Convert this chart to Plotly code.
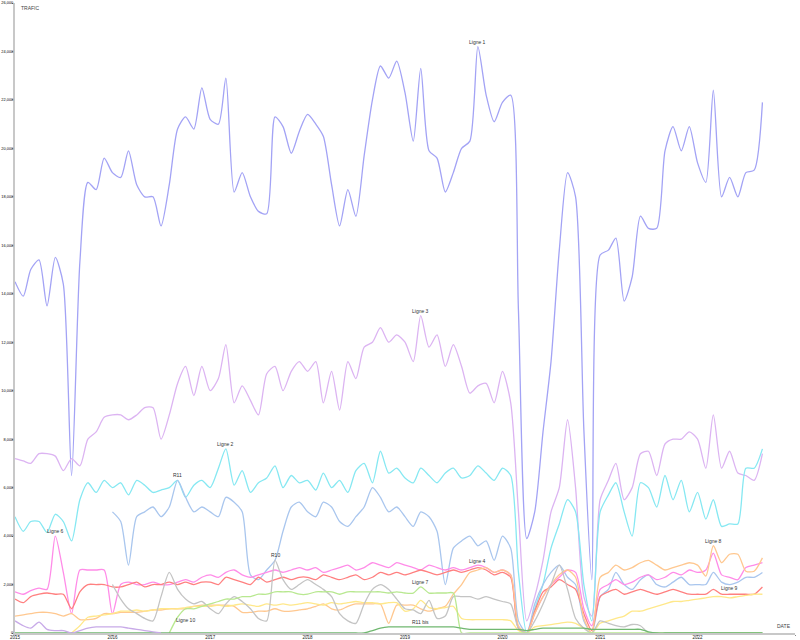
import pandas as pd
import plotly.graph_objects as go

dates = pd.date_range("2015-01-01", periods=93, freq="MS")

ligne1 = [14500, 13900, 15000, 15400, 13500, 15500, 14400, 6500, 15300, 18600, 18300, 19600,
          19000, 18800, 19900, 18500, 18000, 18000, 16800, 18500, 20800, 21300, 20800, 22500,
          21200, 21000, 22900, 18200, 19000, 18000, 17400, 17300, 21300, 20900, 19800, 20700,
          21400, 21000, 20500, 18500, 16800, 18300, 17200, 19700, 22000, 23400, 22900, 23600,
          22300, 20300, 23300, 19900, 19600, 18200, 19000, 20000, 20300, 24200, 22200, 21100,
          21900, 22200, 13300, 3900, 5000, 8300, 11200, 15800, 19000, 18000, 8400, 2200,
          15600, 15800, 16300, 13700, 14700, 17200, 16700, 16700, 19900, 20900, 19900, 20900,
          19400, 18600, 22400, 18000, 18800, 18000, 19000, 19100, 21900]

ligne3 = [7200, 7100, 7000, 7400, 7400, 7300, 6700, 7200, 6900, 8000, 8300, 8900,
          9000, 9000, 8800, 9000, 9300, 9300, 8000, 9000, 10300, 11000, 9800, 11000,
          10000, 10500, 11900, 9500, 10200, 9600, 9000, 10700, 11000, 10000, 10800, 11200,
          10800, 11200, 9500, 10800, 9200, 11200, 10500, 11800, 12000, 12600, 12000, 12300,
          12000, 11200, 13100, 11800, 12300, 11000, 11900, 11000, 9900, 10200, 10300, 9500,
          10800, 9500, 5000, 500, 1500, 3000, 5000, 6000, 8800, 6000, 1500, 700,
          5500, 6300, 7000, 5500, 6000, 7400, 7500, 6500, 7800, 8000, 8000, 8300,
          8000, 6800, 9000, 6800, 7500, 6600, 6500, 6300, 7400]

ligne2 = [4800, 4200, 4600, 4600, 4150, 4900, 4600, 3800, 5500, 6200, 5800, 6300,
          6000, 6200, 5700, 6300, 6100, 5800, 5900, 6000, 6300, 5600, 6100, 6300,
          6000, 6800, 7600, 6100, 6700, 5800, 6200, 6400, 6900, 6000, 6500, 6200,
          6300, 5900, 6600, 6000, 6300, 5800, 6700, 7000, 6200, 7500, 6600, 6800,
          6400, 6200, 6800, 6500, 6200, 6600, 6800, 6400, 6500, 6900, 6600, 6300,
          6800, 6500, 2500, 0, 1000, 2000, 3500, 4500, 5500, 5000, 2000, 500,
          5000, 5700, 6200, 5000, 4000, 6200, 6000, 5200, 6500, 5500, 6300, 5000,
          5800, 4700, 5500, 4400, 4500, 4500, 6800, 6800, 7600]

r11 = [None] * 12 + [
          5000, 4600, 2800, 4800, 5000, 5200, 4800, 5200, 6300, 5600, 5000, 5200,
          5000, 4800, 5600, 5400, 5000, 2400, 2200, 2600, 3000, 4200, 5200, 5400,
          5000, 4800, 5400, 5200, 4600, 4400, 4800, 5200, 6000, 5600, 5000, 5200,
          4800, 4400, 5000, 4800, 4200, 2000, 3500, 3800, 4000, 3600, 3800, 3000,
          4000, 3500, 500, 0, 1200, 2000, 2500, 2800, 2300, 2000, 500, 0,
          1500, 1800, 2500, 2000, 1800, 2200, 2400, 2000, 1900, 2100, 2300, 2000,
          2000, 2000, 2500, 2100, 2000, 2100, 2300, 2300, 2500]

ligne6 = [1700, 1600, 1750, 1850, 1800, 4000, 2500, 800, 2600, 2600, 2600, 2600,
          800, 2000, 2100, 2000, 2000, 2100, 2000, 2000, 2100, 2200, 2100, 2300,
          2400, 2300, 2500, 2600, 2400, 2300, 2400, 2500, 2600, 2500, 2600, 2700,
          2600, 2700, 2500, 2600, 2700, 2800, 2600, 2700, 2900, 2800, 2700, 2900,
          2800, 2700, 2600, 2800, 2700, 2600, 2700, 2600, 2700, 2800, 2700, 2500,
          2600, 2400, 200, 0, 800, 1500, 2000, 2300, 2600, 2500, 1000, 300,
          1800, 2000, 2200, 2000, 2100, 2300, 2400, 2200, 2300, 2500, 2400, 2600,
          2500, 2600, 3300, 2400, 2300, 2200, 2700, 2800, 2900]

rouge = [1400, 1250, 1500, 1600, 1650, 1600, 1600, 1000, 1700, 2000, 2000, 2000,
         1900, 1900, 2000, 2100, 1900, 2000, 2000, 2100, 2000, 2100, 2000, 2100,
         2100, 2000, 2300, 2200, 2100, 2000, 2300, 2100, 2200, 2300, 2200, 2300,
         2300, 2200, 2400, 2300, 2200, 2300, 2400, 2200, 2300, 2500, 2400, 2500,
         2400, 2500, 2600, 2500, 2400, 2500, 2600, 2500, 2600, 2700, 2600, 2400,
         2500, 2300, 200, 0, 900, 1700, 1900, 2200, 2000, 1800, 800, 100,
         1500, 1700, 1800, 1600, 1700, 1800, 1700, 1600, 1700, 1800, 1700, 1600,
         1600, 1600, 1800, 1600, 1600, 1600, 1600, 1600, 1900]

ligne8 = [700, 750, 800, 850, 850, 800, 700, 800, 550, 550, 600, 800,
          800, 850, 850, 850, 900, 950, 950, 1000, 1000, 1000, 1100, 1150,
          1150, 1150, 1150, 1100, 850, 850, 900, 900, 1000, 900, 900, 950,
          1000, 1100, 1200, 1000, 950, 1100, 1200, 1200, 1200, 1200, 400, 1150,
          1150, 1150, 1000, 900, 1000, 1100, 1600, 2000, 2500, 2600, 2700, 2500,
          2600, 2400, 300, 0, 800, 1500, 2000, 2400, 2600, 2300, 600, 0,
          2300, 2500, 2800, 2600, 2700, 2900, 3000, 2800, 2600, 2700, 2800, 2900,
          2800, 2350, 3600, 2900, 3250, 3250, 2550, 2550, 3100]

jaune = [None] * 7 + [0, 300, 650, 700, 750,
         800, 900, 900, 950, 900, 950, 1000, 1000, 1000, 1050, 1100, 1100,
         1100, 1150, 1100, 1150, 1200, 1150, 1100, 1200, 1150, 1200, 1150, 1200,
         1250, 1200, 1150, 1250, 1200, 1250, 1300, 1250, 1250, 1200, 1250, 1250,
         900, 1000, 1350, 1050, 1000, 1050, 1100, 600, 550, 550, 550, 550,
         550, 500, 100, 0, 250, 300, 350, 400, 450, 400, 200, 0,
         400, 500, 600, 700, 900, 900, 1000, 1100, 1200, 1300, 1300, 1350,
         1400, 1450, 1500, 1500, 1450, 1500, 1550, 1600, 1600]

gris = [None] * 12 + [
        2000, 1400, 1000, 800, 600, 500, 1500, 2500, 1800, 1400, 1200, 1300,
        1000, 800, 1200, 1500, 1300, 1000, 600, 500, 3000, 2200, 1800, 2000,
        2200, 2000, 1800, 1500, 800, 500, 400, 1200, 1800, 2000, 1800, 1400,
        1000, 950, 800, 1350, 600, 700, 1500, 1500, 1500, 1400, 1500, 1400,
        1300, 1200, 200, 0, 500, 1200, 2000, 2800, 1800, 600, 200, 0,
        500, 400, 300, 250, 350, 300, 0, 0, 0, 0, 0, 0,
        0, 0, 0, 0, 0, 0, 0, 0, 0]

vert_clair = [None] * 19 + [0, 650, 1000, 1000, 1100,
        1200, 1300, 1400, 1400, 1500, 1500, 1600, 1600, 1700, 1700, 1700, 1600,
        1600, 1700, 1700, 1700, 1600, 1700, 1700, 1700, 1700, 1700, 1650, 1700,
        1650, 1650, 1900, 1650, 1650, 1650, 1650, 0, 0, 0, 0, 0,
        0, 0, 0, 0, 0, 0, 0, 0, 0, 0, 0, 0,
        0, 0, 0, 0, 0, 0, 0, 0, 0, 0, 0, 0,
        0, 0, 0, 0, 0, 0, 0, 0, 0]

vert_fonce = [0] * 44 + [100, 200, 250, 250,
        250, 250, 250, 250, 250, 250, 250, 200, 150, 150, 150, 150,
        150, 150, 150, 100, 150, 200, 200, 200, 200, 200, 200, 150,
        150, 150, 150, 150, 150, 150, 50, 0, 0, 0, 0, 0,
        0, 0, 0, 0, 0, 0, 0, 0, 0]

violet = [500, 300, 200, 450, 150, 100, 100, 0, 100, 200, 250, 250,
          250, 250, 200, 150, 100, 50, 0] + [None] * 74

series = [
    ("Ligne 1", ligne1, "#a3a3f5"),
    ("Ligne 3", ligne3, "#dcb4f2"),
    ("Ligne 2", ligne2, "#86e8f2"),
    ("R11", r11, "#a9c6ee"),
    ("Ligne 6", ligne6, "#ff8ce8"),
    ("Ligne 4", rouge, "#ff8080"),
    ("Ligne 8", ligne8, "#ffc890"),
    ("Ligne 9", jaune, "#ffe88a"),
    ("R10", gris, "#c4c4c4"),
    ("Ligne 7", vert_clair, "#b8e890"),
    ("R11 bis", vert_fonce, "#70b870"),
    ("Ligne 10", violet, "#c8aae8"),
]

fig = go.Figure()
for name, vals, col in series:
    fig.add_trace(go.Scatter(x=dates, y=vals, mode="lines", name=name,
                             line=dict(color=col, width=1.3, shape="spline", smoothing=0.7),
                             connectgaps=False, hoverinfo="x+y+name"))

labels = [
    ("Ligne 1", "2019-10-01", 24200),
    ("Ligne 3", "2019-03-01", 13100),
    ("Ligne 2", "2017-03-01", 7600),
    ("R11", "2016-09-01", 6300),
    ("Ligne 6", "2015-06-01", 4000),
    ("R10", "2017-09-01", 3000),
    ("Ligne 4", "2019-10-01", 2750),
    ("Ligne 7", "2019-03-01", 1900),
    ("Ligne 8", "2022-03-01", 3600),
    ("Ligne 10", "2016-10-01", 350),
    ("R11 bis", "2019-03-01", 250),
    ("Ligne 9", "2022-05-01", 1650),
]
for txt, d, v in labels:
    fig.add_annotation(x=d, y=v, text=txt, showarrow=False, yshift=5,
                       font=dict(size=5, color="#333", family="Arial"))

fig.add_annotation(x=0, y=1, xref="paper", yref="paper", text="TRAFIC", showarrow=False,
                   xanchor="left", yanchor="top", xshift=4, yshift=0,
                   font=dict(size=5, color="#444", family="Arial"))
fig.add_annotation(x=1, y=0, xref="paper", yref="paper", text="DATE", showarrow=False,
                   xanchor="right", yanchor="bottom", xshift=-2, yshift=2,
                   font=dict(size=5, color="#444", family="Arial"))

fig.update_layout(
    width=800, height=640,
    margin=dict(l=15, r=5, t=3, b=7, autoexpand=False),
    plot_bgcolor="white", paper_bgcolor="white",
    showlegend=False,
    xaxis=dict(range=["2015-01-01", "2023-01-01"], tickvals=pd.date_range("2015-01-01", "2023-01-01", freq="YS"),
               ticktext=[str(y) for y in range(2015, 2024)], automargin=False,
               showgrid=False, zeroline=False, showline=True, linecolor="#c8c8c8", linewidth=2,
               ticks="outside", ticklen=1, tickcolor="#888", ticklabelstandoff=-2,
               tickfont=dict(size=4.5, color="#222", family="Arial")),
    yaxis=dict(range=[0, 26000], tickvals=list(range(0, 26001, 2000)), tickformat=",d", automargin=False,
               showgrid=False, zeroline=False, showline=True, linecolor="#c8c8c8", linewidth=2,
               ticks="outside", ticklen=1, tickcolor="#888", ticklabelstandoff=-2,
               tickfont=dict(size=3.9, color="#000", family="Liberation Sans Narrow, Arial")),
)

fig.write_html("out.html", config={"displayModeBar": False},
               post_script="document.body.style.margin='0';document.body.style.overflow='hidden';")
